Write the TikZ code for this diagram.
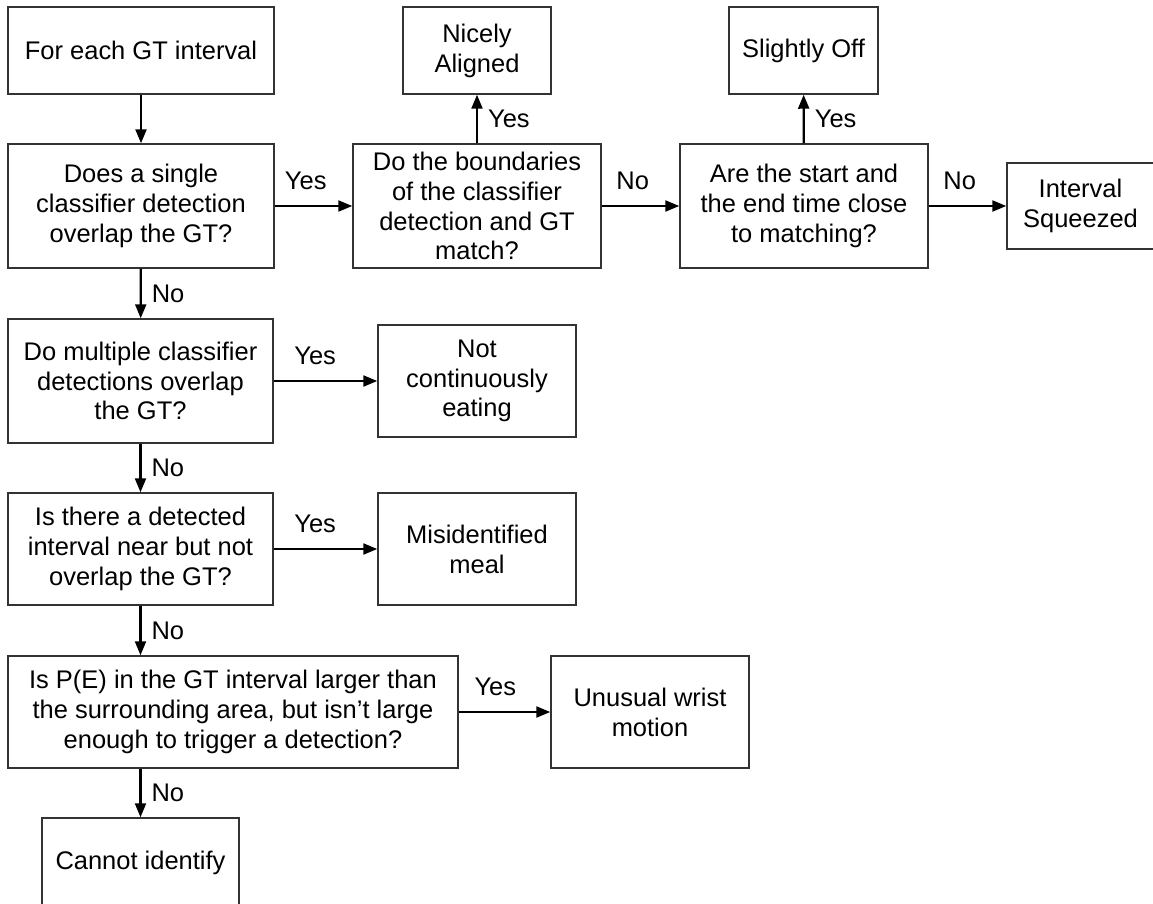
\documentclass[tikz,border=0pt]{standalone}
\usepackage{fontspec}
\setmainfont{Liberation Sans}
\usetikzlibrary{arrows.meta}
\begin{document}
\begin{tikzpicture}[x=0.02cm, y=-0.02cm,
  box/.style={draw=black!80, line width=0.85pt, align=center, inner sep=2pt,
    font=\fontsize{14.5pt}{17pt}\selectfont},
  arr/.style={line width=1.25pt, -{Triangle[length=0.28cm, width=0.22cm]}},
  lbl/.style={font=\fontsize{14.5pt}{17pt}\selectfont, inner sep=0pt},
  hlab/.style={lbl, anchor=base, yshift=0.34cm},
  vlab/.style={lbl, anchor=west, xshift=0.2cm}]
\useasboundingbox (0,0) rectangle (1153,903);
\clip (0,0) rectangle (1153,903);

% decision and outcome boxes
\node[box, minimum width=5.32cm, minimum height=1.74cm] (start) at (141,50.5) {For each GT interval};
\node[box, minimum width=5.32cm, minimum height=2.48cm] (single) at (141,206)
  {Does a single\\classifier detection\\overlap the GT?};
\node[box, minimum width=4.96cm, minimum height=2.48cm] (bound) at (477,206)
  {Do the boundaries\\of the classifier\\detection and GT\\match?};
\node[box, minimum width=2.96cm, minimum height=1.74cm] (nice) at (477,50.5) {Nicely\\Aligned};
\node[box, minimum width=2.98cm, minimum height=1.74cm] (slight) at (803.5,50.5) {Slightly Off};
\node[box, minimum width=4.96cm, minimum height=2.48cm] (close) at (804,206)
  {Are the start and\\the end time close\\to matching?};
\node[box, minimum width=2.94cm, minimum height=1.72cm] (squeeze) at (1080.5,206) {Interval\\Squeezed};
\node[box, minimum width=5.30cm, minimum height=2.48cm] (multi) at (140.5,381)
  {Do multiple classifier\\detections overlap\\the GT?};
\node[box, minimum width=3.96cm, minimum height=2.24cm] (notcont) at (477,381)
  {Not\\continuously\\eating};
\node[box, minimum width=5.30cm, minimum height=2.24cm] (near) at (140.5,549)
  {Is there a detected\\interval near but not\\overlap the GT?};
\node[box, minimum width=3.96cm, minimum height=2.24cm] (misid) at (477,549)
  {Misidentified\\meal};
\node[box, minimum width=9.00cm, minimum height=2.24cm] (prob) at (233,712)
  {Is P(E) in the GT interval larger than\\the surrounding area, but isn’t large\\enough to trigger a detection?};
\node[box, minimum width=3.96cm, minimum height=2.24cm] (wrist) at (650,712)
  {Unusual wrist\\motion};
\node[box, minimum width=3.94cm, minimum height=1.80cm] (unknown) at (140.5,863) {Cannot identify};

% connectors
\draw[arr] (start) -- (single);
\draw[arr] (single) -- node[hlab, pos=0.4] {Yes} (bound);
\draw[arr] (bound) -- node[vlab] {Yes} (nice);
\draw[arr] (bound) -- node[hlab, pos=0.4] {No} (close);
\draw[arr] (close) -- node[vlab] {Yes} (slight);
\draw[arr] (close) -- node[hlab, pos=0.4] {No} (squeeze);
\draw[arr] (single) -- node[vlab] {No} (multi);
\draw[arr] (multi) -- node[hlab, pos=0.4] {Yes} (notcont);
\draw[arr] (multi) -- node[vlab] {No} (near);
\draw[arr] (near) -- node[hlab, pos=0.4] {Yes} (misid);
\draw[arr] (near.south) -- node[vlab] {No} (near.south |- prob.north);
\draw[arr] (prob) -- node[hlab, pos=0.4] {Yes} (wrist);
\draw[arr] (prob.south -| unknown.north) -- node[vlab] {No} (unknown.north);
\end{tikzpicture}
\end{document}
